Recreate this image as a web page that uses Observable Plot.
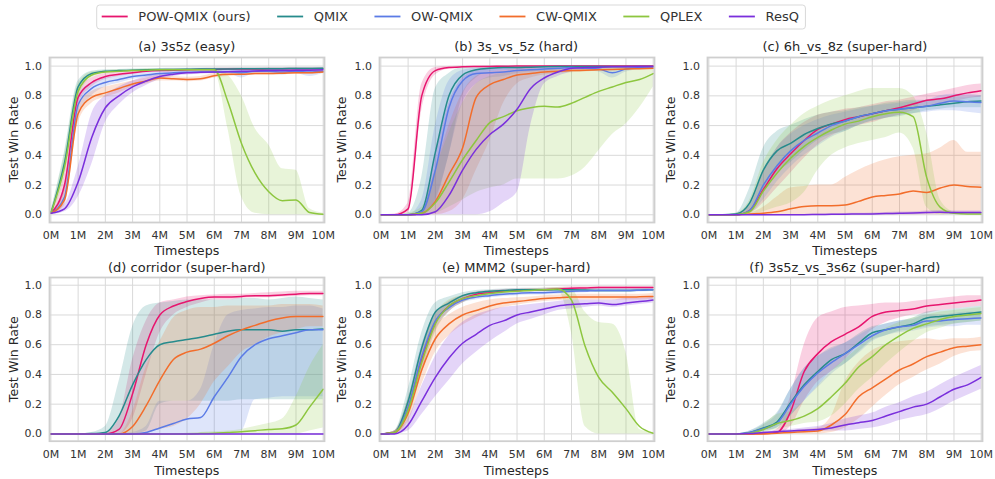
<!DOCTYPE html>
<html><head><meta charset="utf-8">
<script src="https://cdn.jsdelivr.net/npm/d3@7"></script>
<script src="https://cdn.jsdelivr.net/npm/@observablehq/plot@0.6"></script>
<style>
body{margin:0;background:#fff;}
#root{position:relative;width:995px;height:479px;overflow:hidden;background:#fff;font-family:"DejaVu Sans",sans-serif;}
#root svg.plot{position:absolute;}
#overlay{position:absolute;left:0;top:0;pointer-events:none;}
</style></head><body><div id="root"></div>
<script>
// ---------- data ----------
const timesteps = [0,0.5,1,1.5,2,2.5,3,3.5,4,4.5,5,5.5,6,6.5,7,7.5,8,8.5,9,9.5,10]; // millions
const methods = ["POW-QMIX (ours)","QMIX","OW-QMIX","CW-QMIX","QPLEX","ResQ"];
const colors = ["#e7156e","#268b8c","#5b7be6","#f26d2b","#8dc63f","#7a2fdc"];
const xTicks = [0,1,2,3,4,5,6,7,8,9,10];
const yTicks = [0,0.2,0.4,0.6,0.8,1.0];
const titles = ["(a) 3s5z (easy)","(b) 3s_vs_5z (hard)","(c) 6h_vs_8z (super-hard)","(d) corridor (super-hard)","(e) MMM2 (super-hard)","(f) 3s5z_vs_3s6z (super-hard)"];

// (a) 3s5z
const a_pow    = [0.01,0.20,0.79,0.89,0.93, 0.945,0.955,0.965,0.97,0.972, 0.975,0.977,0.978,0.98,0.98, 0.98,0.982,0.982,0.983,0.983,0.983];
const a_pow_lo = [0,0.14,0.74,0.86,0.91, 0.93,0.945,0.955,0.96,0.965, 0.968,0.97,0.97,0.972,0.972, 0.973,0.975,0.975,0.976,0.976,0.976];
const a_pow_hi = [0.02,0.27,0.84,0.92,0.95, 0.96,0.965,0.972,0.978,0.98, 0.982,0.984,0.985,0.987,0.987, 0.987,0.989,0.989,0.99,0.99,0.99];
const a_qmix    = [0.01,0.35,0.86,0.95,0.965, 0.97,0.972,0.975,0.977,0.978, 0.979,0.98,0.98,0.981,0.982, 0.982,0.983,0.983,0.984,0.984,0.985];
const a_qmix_lo = [0,0.28,0.82,0.93,0.955, 0.96,0.965,0.968,0.97,0.971, 0.972,0.973,0.973,0.974,0.975, 0.975,0.976,0.976,0.977,0.977,0.978];
const a_qmix_hi = [0.02,0.42,0.9,0.965,0.975, 0.978,0.98,0.982,0.984,0.985, 0.986,0.987,0.987,0.988,0.989, 0.989,0.99,0.99,0.99,0.99,0.99];
const a_ow    = [0.01,0.12,0.74,0.85,0.89, 0.91,0.93,0.94,0.95,0.955, 0.958,0.96,0.96,0.962,0.955, 0.965,0.965,0.96,0.965,0.96,0.965];
const a_ow_lo = [0,0.07,0.66,0.8,0.86, 0.885,0.91,0.925,0.935,0.945, 0.95,0.95,0.95,0.95,0.92, 0.95,0.95,0.94,0.95,0.93,0.95];
const a_ow_hi = [0.02,0.2,0.8,0.89,0.92, 0.935,0.95,0.955,0.965,0.968, 0.97,0.972,0.973,0.975,0.975, 0.978,0.978,0.978,0.98,0.98,0.98];
const a_cw    = [0.01,0.1,0.68,0.79,0.82, 0.85,0.88,0.9,0.92,0.915, 0.91,0.915,0.935,0.945,0.945, 0.95,0.95,0.952,0.955,0.955,0.96];
const a_cw_lo = [0,0.06,0.62,0.75,0.79, 0.82,0.86,0.88,0.9,0.9, 0.895,0.9,0.92,0.93,0.935, 0.94,0.94,0.942,0.945,0.945,0.95];
const a_cw_hi = [0.02,0.16,0.74,0.83,0.86, 0.88,0.9,0.92,0.935,0.93, 0.925,0.93,0.95,0.955,0.955, 0.96,0.96,0.962,0.965,0.965,0.97];
const a_qplex    = [0.01,0.32,0.83,0.94,0.96, 0.965,0.97,0.972,0.975,0.975, 0.976,0.976,0.975,0.76,0.48, 0.28,0.155,0.095,0.1,0.015,0.003];
const a_qplex_lo = [0,0.25,0.78,0.92,0.95, 0.957,0.962,0.965,0.968,0.968, 0.968,0.968,0.965,0.58,0.12, 0.01,0,0,0,0,0];
const a_qplex_hi = [0.02,0.4,0.88,0.96,0.97, 0.975,0.978,0.98,0.982,0.982, 0.983,0.983,0.983,0.94,0.8, 0.58,0.47,0.31,0.3,0.04,0.01];
const a_resq    = [0.01,0.04,0.22,0.52,0.72, 0.8,0.86,0.9,0.93,0.945, 0.955,0.958,0.96,0.962,0.965, 0.967,0.97,0.97,0.972,0.973,0.975];
const a_resq_lo = [0,0.02,0.12,0.34,0.62, 0.74,0.82,0.87,0.91,0.93, 0.94,0.945,0.95,0.952,0.955, 0.958,0.96,0.96,0.962,0.963,0.965];
const a_resq_hi = [0.02,0.07,0.32,0.68,0.8, 0.86,0.9,0.93,0.95,0.96, 0.965,0.968,0.97,0.972,0.975, 0.977,0.98,0.98,0.982,0.983,0.985];

// (b) 3s_vs_5z
const b_pow    = [0,0,0.04,0.8,0.97, 0.99,0.995,0.997,0.998,0.999, 1,1,1,1,1, 1,1,1,1,1,1];
const b_pow_lo = [0,0,0.01,0.7,0.94, 0.98,0.99,0.995,0.996,0.998, 0.999,1,1,1,1, 1,1,1,1,1,1];
const b_pow_hi = [0,0.005,0.08,0.88,0.99, 0.997,1,1,1,1, 1,1,1,1,1, 1,1,1,1,1,1];
const b_qmix    = [0,0,0,0.03,0.42, 0.8,0.94,0.975,0.985,0.99, 0.99,0.993,0.995,0.997,0.998, 0.998,0.998,0.998,0.998,0.998,0.998];
const b_qmix_lo = [0,0,0,0,0.1, 0.4,0.8,0.92,0.96,0.97, 0.975,0.98,0.985,0.99,0.99, 0.99,0.99,0.99,0.99,0.99,0.99];
const b_qmix_hi = [0,0,0.01,0.25,0.85, 0.95,0.99,0.995,1,1, 1,1,1,1,1, 1,1,1,1,1,1];
const b_ow    = [0,0,0,0.02,0.3, 0.72,0.9,0.95,0.955,0.96, 0.97,0.975,0.98,0.985,0.99, 0.985,0.98,0.955,0.98,0.99,0.995];
const b_ow_lo = [0,0,0,0,0.08, 0.4,0.75,0.88,0.92,0.93, 0.95,0.96,0.965,0.97,0.975, 0.97,0.96,0.92,0.96,0.975,0.985];
const b_ow_hi = [0,0,0,0.1,0.6, 0.9,0.97,0.985,0.99,0.99, 0.99,0.995,0.995,1,1, 1,1,0.99,1,1,1];
const b_cw    = [0,0,0,0.01,0.09, 0.27,0.45,0.79,0.875,0.91, 0.94,0.95,0.96,0.965,0.97, 0.972,0.975,0.978,0.98,0.983,0.985];
const b_cw_lo = [0,0,0,0,0, 0.02,0.1,0.3,0.5,0.75, 0.88,0.92,0.94,0.95,0.955, 0.96,0.965,0.97,0.97,0.975,0.975];
const b_cw_hi = [0,0,0,0.03,0.3, 0.6,0.82,0.93,0.96,0.97, 0.98,0.985,0.985,0.99,0.99, 0.99,0.99,0.99,0.99,0.995,0.995];
const b_qplex    = [0,0,0,0.01,0.08, 0.22,0.37,0.5,0.62,0.66, 0.7,0.72,0.73,0.725,0.75, 0.79,0.83,0.86,0.89,0.91,0.95];
const b_qplex_lo = [0,0,0,0,0.01, 0.05,0.1,0.15,0.18,0.2, 0.24,0.24,0.24,0.24,0.26, 0.32,0.43,0.54,0.61,0.72,0.86];
const b_qplex_hi = [0,0,0.01,0.05,0.3, 0.55,0.75,0.88,0.93,0.95, 0.96,0.97,0.975,0.975,0.98, 0.985,0.985,0.99,0.99,0.99,0.995];
const b_resq    = [0,0,0,0,0.02, 0.13,0.3,0.44,0.54,0.61, 0.71,0.85,0.92,0.96,0.985, 0.99,0.993,0.995,0.996,0.997,0.998];
const b_resq_lo = [0,0,0,0,0, 0,0,0,0.02,0.08, 0.15,0.6,0.88,0.93,0.96, 0.975,0.98,0.985,0.985,0.99,0.99];
const b_resq_hi = [0,0,0,0.02,0.4, 0.75,0.92,0.97,0.985,0.99, 0.995,0.997,0.998,1,1, 1,1,1,1,1,1];

// (c) 6h_vs_8z
const c_pow    = [0,0,0,0.03,0.17, 0.31,0.41,0.5,0.575,0.61, 0.64,0.66,0.68,0.7,0.72, 0.745,0.77,0.78,0.8,0.82,0.835];
const c_pow_lo = [0,0,0,0.01,0.08, 0.18,0.28,0.38,0.47,0.53, 0.57,0.6,0.62,0.65,0.67, 0.7,0.73,0.74,0.76,0.78,0.79];
const c_pow_hi = [0,0,0.005,0.06,0.28, 0.45,0.55,0.62,0.67,0.69, 0.71,0.72,0.74,0.76,0.77, 0.79,0.81,0.83,0.85,0.87,0.88];
const c_qmix    = [0,0,0.005,0.08,0.3, 0.43,0.48,0.54,0.58,0.61, 0.63,0.66,0.68,0.7,0.71, 0.72,0.73,0.74,0.75,0.76,0.765];
const c_qmix_lo = [0,0,0,0.02,0.15, 0.28,0.35,0.43,0.5,0.54, 0.56,0.6,0.63,0.65,0.66, 0.68,0.7,0.71,0.72,0.72,0.72];
const c_qmix_hi = [0,0,0.01,0.18,0.45, 0.56,0.6,0.64,0.67,0.69, 0.7,0.72,0.73,0.75,0.76, 0.77,0.77,0.78,0.79,0.79,0.8];
const c_ow    = [0,0,0,0.03,0.2, 0.33,0.43,0.5,0.55,0.6, 0.63,0.66,0.68,0.7,0.71, 0.72,0.73,0.75,0.765,0.76,0.755];
const c_ow_lo = [0,0,0,0.01,0.1, 0.22,0.32,0.4,0.46,0.52, 0.56,0.6,0.63,0.65,0.67, 0.68,0.69,0.7,0.7,0.69,0.68];
const c_ow_hi = [0,0,0.005,0.07,0.3, 0.45,0.54,0.6,0.64,0.67, 0.69,0.71,0.73,0.74,0.75, 0.76,0.77,0.8,0.81,0.81,0.8];
const c_cw    = [0,0,0,0.005,0.01, 0.02,0.04,0.055,0.06,0.06, 0.065,0.09,0.12,0.13,0.14, 0.16,0.15,0.18,0.2,0.19,0.185];
const c_cw_lo = [0,0,0,0,0, 0,0,0,0,0, 0,0,0,0,0, 0,0,0,0.005,0.005,0.005];
const c_cw_hi = [0,0,0,0.01,0.05, 0.12,0.18,0.19,0.2,0.2, 0.25,0.3,0.34,0.37,0.39, 0.4,0.41,0.45,0.5,0.42,0.42];
const c_qplex    = [0,0,0,0.02,0.16, 0.28,0.38,0.46,0.52,0.57, 0.61,0.63,0.66,0.68,0.69, 0.66,0.25,0.05,0.01,0.005,0.005];
const c_qplex_lo = [0,0,0,0,0.02, 0.05,0.08,0.15,0.3,0.4, 0.45,0.48,0.5,0.52,0.55, 0.45,0.05,0,0,0,0];
const c_qplex_hi = [0,0,0.01,0.1,0.35, 0.5,0.6,0.68,0.73,0.77, 0.8,0.83,0.85,0.85,0.85, 0.8,0.55,0.1,0.02,0.01,0.01];
const c_resq    = [0,0,0,0,0, 0,0,0,0.002,0.003, 0.004,0.005,0.006,0.008,0.01, 0.012,0.015,0.017,0.015,0.015,0.015];
const c_resq_lo = [0,0,0,0,0, 0,0,0,0,0, 0,0,0,0,0, 0,0.005,0.007,0.005,0.005,0.005];
const c_resq_hi = [0,0,0,0,0, 0,0,0.002,0.005,0.007, 0.009,0.01,0.012,0.015,0.018, 0.02,0.025,0.028,0.025,0.025,0.025];

// (d) corridor
const d_pow    = [0,0,0,0,0, 0.03,0.27,0.6,0.8,0.86, 0.89,0.91,0.92,0.92,0.925, 0.93,0.93,0.935,0.94,0.945,0.945];
const d_pow_lo = [0,0,0,0,0, 0,0.1,0.4,0.68,0.8, 0.85,0.88,0.9,0.9,0.91, 0.915,0.915,0.92,0.925,0.93,0.93];
const d_pow_hi = [0,0,0,0,0.01, 0.1,0.5,0.76,0.88,0.9, 0.92,0.93,0.935,0.94,0.94, 0.945,0.95,0.955,0.96,0.96,0.96];
const d_qmix    = [0,0,0,0.002,0.01, 0.12,0.33,0.5,0.6,0.62, 0.635,0.65,0.67,0.69,0.7, 0.7,0.7,0.69,0.7,0.7,0.705];
const d_qmix_lo = [0,0,0,0,0, 0,0,0.02,0.2,0.22, 0.22,0.22,0.22,0.22,0.23, 0.23,0.23,0.23,0.23,0.23,0.23];
const d_qmix_hi = [0,0,0,0.01,0.05, 0.35,0.72,0.86,0.88,0.89, 0.9,0.9,0.9,0.9,0.91, 0.91,0.9,0.91,0.92,0.91,0.9];
const d_ow    = [0,0,0,0,0, 0,0,0.01,0.04,0.07, 0.1,0.11,0.25,0.38,0.52, 0.6,0.64,0.66,0.68,0.7,0.7];
const d_ow_lo = [0,0,0,0,0, 0,0,0,0,0, 0,0,0,0.01,0.02, 0.23,0.24,0.25,0.25,0.25,0.25];
const d_ow_hi = [0,0,0,0,0, 0,0.01,0.05,0.22,0.22, 0.22,0.3,0.6,0.8,0.83, 0.84,0.85,0.85,0.86,0.86,0.84];
const d_cw    = [0,0,0,0,0, 0,0.05,0.19,0.36,0.5, 0.55,0.57,0.61,0.66,0.7, 0.73,0.76,0.78,0.79,0.79,0.79];
const d_cw_lo = [0,0,0,0,0, 0,0,0.01,0.03,0.05, 0.1,0.2,0.35,0.45,0.55, 0.6,0.65,0.68,0.7,0.72,0.72];
const d_cw_hi = [0,0,0,0,0, 0,0.15,0.45,0.62,0.78, 0.83,0.85,0.85,0.86,0.86, 0.86,0.86,0.87,0.87,0.87,0.86];
const d_qplex    = [0,0,0,0,0, 0,0,0,0,0, 0,0.002,0.005,0.01,0.015, 0.022,0.03,0.035,0.06,0.18,0.3];
const d_qplex_lo = [0,0,0,0,0, 0,0,0,0,0, 0,0,0,0,0, 0,0,0,0,0.02,0.04];
const d_qplex_hi = [0,0,0,0,0, 0,0,0,0,0, 0.005,0.01,0.015,0.02,0.03, 0.05,0.07,0.1,0.25,0.45,0.6];
const d_resq    = [0,0,0,0,0, 0,0,0,0,0, 0,0,0,0,0, 0,0,0,0,0,0];
const d_resq_lo = [0,0,0,0,0, 0,0,0,0,0, 0,0,0,0,0, 0,0,0,0,0,0];
const d_resq_hi = [0,0,0,0,0, 0,0,0,0,0, 0,0,0,0,0, 0,0,0,0,0,0];

// (e) MMM2
const e_pow    = [0,0.01,0.17,0.5,0.75, 0.86,0.91,0.94,0.95,0.96, 0.965,0.97,0.97,0.975,0.98, 0.982,0.985,0.985,0.985,0.985,0.985];
const e_pow_lo = [0,0,0.12,0.42,0.69, 0.82,0.88,0.92,0.935,0.945, 0.955,0.96,0.96,0.965,0.97, 0.975,0.978,0.978,0.978,0.978,0.978];
const e_pow_hi = [0,0.02,0.22,0.57,0.8, 0.89,0.93,0.955,0.965,0.972, 0.975,0.978,0.98,0.985,0.99, 0.99,0.992,0.992,0.992,0.992,0.992];
const e_qmix    = [0,0.01,0.22,0.58,0.82, 0.88,0.93,0.95,0.96,0.965, 0.97,0.97,0.97,0.97,0.97, 0.968,0.965,0.965,0.965,0.967,0.97];
const e_qmix_lo = [0,0,0.15,0.48,0.75, 0.84,0.91,0.935,0.95,0.955, 0.96,0.96,0.96,0.96,0.96, 0.958,0.955,0.955,0.955,0.957,0.96];
const e_qmix_hi = [0,0.02,0.3,0.68,0.88, 0.92,0.95,0.965,0.97,0.975, 0.978,0.98,0.98,0.98,0.98, 0.978,0.975,0.975,0.975,0.977,0.98];
const e_ow    = [0,0.01,0.18,0.52,0.76, 0.85,0.9,0.92,0.93,0.94, 0.945,0.95,0.95,0.955,0.96, 0.962,0.965,0.965,0.965,0.967,0.97];
const e_ow_lo = [0,0,0.13,0.45,0.71, 0.82,0.88,0.9,0.915,0.925, 0.93,0.935,0.935,0.94,0.945, 0.95,0.952,0.952,0.952,0.955,0.958];
const e_ow_hi = [0,0.02,0.24,0.6,0.81, 0.88,0.92,0.94,0.945,0.955, 0.96,0.965,0.965,0.97,0.975, 0.975,0.978,0.978,0.978,0.98,0.982];
const e_cw    = [0,0.01,0.14,0.43,0.64, 0.74,0.8,0.83,0.86,0.88, 0.89,0.9,0.91,0.915,0.92, 0.92,0.92,0.92,0.92,0.922,0.925];
const e_cw_lo = [0,0,0.08,0.33,0.55, 0.66,0.73,0.78,0.82,0.85, 0.865,0.88,0.89,0.895,0.9, 0.9,0.9,0.9,0.9,0.9,0.905];
const e_cw_hi = [0,0.02,0.2,0.52,0.72, 0.8,0.85,0.88,0.9,0.91, 0.915,0.92,0.93,0.935,0.94, 0.94,0.94,0.94,0.94,0.94,0.945];
const e_qplex    = [0,0.01,0.16,0.48,0.74, 0.86,0.91,0.93,0.945,0.955, 0.96,0.965,0.97,0.975,0.9, 0.59,0.38,0.28,0.17,0.05,0.005];
const e_qplex_lo = [0,0,0.1,0.4,0.68, 0.82,0.88,0.91,0.93,0.94, 0.95,0.955,0.96,0.965,0.68, 0.05,0,0,0,0,0];
const e_qplex_hi = [0,0.02,0.24,0.57,0.8, 0.9,0.93,0.95,0.96,0.965, 0.97,0.975,0.98,0.985,0.975, 0.82,0.75,0.74,0.55,0.03,0.01];
const e_resq    = [0,0,0.06,0.22,0.38, 0.51,0.61,0.67,0.73,0.76, 0.8,0.82,0.84,0.86,0.87, 0.875,0.88,0.87,0.88,0.89,0.9];
const e_resq_lo = [0,0,0.02,0.13,0.25, 0.36,0.47,0.55,0.62,0.68, 0.74,0.77,0.8,0.83,0.84, 0.85,0.86,0.85,0.86,0.87,0.88];
const e_resq_hi = [0,0.01,0.1,0.32,0.52, 0.66,0.75,0.8,0.83,0.85, 0.86,0.87,0.88,0.89,0.9, 0.9,0.9,0.9,0.91,0.91,0.92];

// (f) 3s5z_vs_3s6z
const f_pow    = [0,0,0,0,0.002, 0.01,0.15,0.42,0.54,0.62, 0.67,0.72,0.79,0.82,0.83, 0.84,0.86,0.87,0.88,0.89,0.9];
const f_pow_lo = [0,0,0,0,0, 0,0.05,0.22,0.35,0.42, 0.5,0.6,0.7,0.75,0.78, 0.8,0.81,0.83,0.84,0.85,0.86];
const f_pow_hi = [0,0,0,0,0.005, 0.03,0.25,0.6,0.78,0.82, 0.85,0.86,0.87,0.88,0.88, 0.89,0.9,0.91,0.92,0.93,0.93];
const f_qmix    = [0,0,0,0.01,0.04, 0.08,0.21,0.33,0.42,0.5, 0.54,0.61,0.68,0.7,0.72, 0.74,0.78,0.79,0.8,0.81,0.82];
const f_qmix_lo = [0,0,0,0,0.02, 0.04,0.12,0.22,0.32,0.42, 0.47,0.55,0.63,0.66,0.69, 0.7,0.72,0.73,0.74,0.75,0.76];
const f_qmix_hi = [0,0,0,0.02,0.07, 0.14,0.3,0.44,0.52,0.58, 0.61,0.67,0.72,0.74,0.76, 0.78,0.82,0.83,0.84,0.85,0.86];
const f_ow    = [0,0,0,0.01,0.035, 0.07,0.2,0.32,0.41,0.48, 0.54,0.6,0.66,0.7,0.72, 0.73,0.76,0.76,0.77,0.775,0.78];
const f_ow_lo = [0,0,0,0,0.015, 0.04,0.12,0.22,0.31,0.4, 0.47,0.54,0.62,0.66,0.68, 0.69,0.71,0.72,0.72,0.73,0.73];
const f_ow_hi = [0,0,0,0.02,0.06, 0.13,0.3,0.44,0.52,0.57, 0.61,0.66,0.71,0.74,0.76, 0.77,0.8,0.8,0.81,0.82,0.82];
const f_cw    = [0,0,0,0,0, 0.005,0.01,0.015,0.02,0.06, 0.13,0.25,0.31,0.37,0.43, 0.47,0.52,0.55,0.58,0.59,0.6];
const f_cw_lo = [0,0,0,0,0, 0,0,0,0,0.01, 0.04,0.1,0.18,0.26,0.33, 0.38,0.43,0.47,0.52,0.55,0.56];
const f_cw_hi = [0,0,0,0,0, 0.01,0.02,0.03,0.04,0.12, 0.35,0.48,0.56,0.6,0.62, 0.63,0.64,0.63,0.64,0.64,0.65];
const f_qplex    = [0,0,0,0.005,0.03, 0.07,0.09,0.12,0.17,0.25, 0.34,0.45,0.52,0.6,0.66, 0.71,0.74,0.77,0.79,0.8,0.81];
const f_qplex_lo = [0,0,0,0,0.01, 0.03,0.05,0.07,0.08,0.12, 0.2,0.3,0.38,0.47,0.55, 0.62,0.68,0.71,0.74,0.75,0.76];
const f_qplex_hi = [0,0,0,0.01,0.06, 0.13,0.15,0.22,0.32,0.42, 0.5,0.58,0.65,0.71,0.75, 0.78,0.8,0.82,0.83,0.84,0.85];
const f_resq    = [0,0,0,0.002,0.01, 0.015,0.02,0.025,0.03,0.04, 0.06,0.075,0.09,0.12,0.15, 0.18,0.2,0.25,0.3,0.33,0.38];
const f_resq_lo = [0,0,0,0,0.005, 0.008,0.01,0.012,0.015,0.02, 0.02,0.03,0.04,0.06,0.09, 0.11,0.13,0.17,0.22,0.26,0.3];
const f_resq_hi = [0,0,0,0.005,0.015, 0.022,0.03,0.04,0.05,0.07, 0.1,0.12,0.14,0.18,0.21, 0.25,0.28,0.33,0.38,0.42,0.46];

// ---------- assembly ----------
const panelData = [
  [[a_pow,a_pow_lo,a_pow_hi],[a_qmix,a_qmix_lo,a_qmix_hi],[a_ow,a_ow_lo,a_ow_hi],[a_cw,a_cw_lo,a_cw_hi],[a_qplex,a_qplex_lo,a_qplex_hi],[a_resq,a_resq_lo,a_resq_hi]],
  [[b_pow,b_pow_lo,b_pow_hi],[b_qmix,b_qmix_lo,b_qmix_hi],[b_ow,b_ow_lo,b_ow_hi],[b_cw,b_cw_lo,b_cw_hi],[b_qplex,b_qplex_lo,b_qplex_hi],[b_resq,b_resq_lo,b_resq_hi]],
  [[c_pow,c_pow_lo,c_pow_hi],[c_qmix,c_qmix_lo,c_qmix_hi],[c_ow,c_ow_lo,c_ow_hi],[c_cw,c_cw_lo,c_cw_hi],[c_qplex,c_qplex_lo,c_qplex_hi],[c_resq,c_resq_lo,c_resq_hi]],
  [[d_pow,d_pow_lo,d_pow_hi],[d_qmix,d_qmix_lo,d_qmix_hi],[d_ow,d_ow_lo,d_ow_hi],[d_cw,d_cw_lo,d_cw_hi],[d_qplex,d_qplex_lo,d_qplex_hi],[d_resq,d_resq_lo,d_resq_hi]],
  [[e_pow,e_pow_lo,e_pow_hi],[e_qmix,e_qmix_lo,e_qmix_hi],[e_ow,e_ow_lo,e_ow_hi],[e_cw,e_cw_lo,e_cw_hi],[e_qplex,e_qplex_lo,e_qplex_hi],[e_resq,e_resq_lo,e_resq_hi]],
  [[f_pow,f_pow_lo,f_pow_hi],[f_qmix,f_qmix_lo,f_qmix_hi],[f_ow,f_ow_lo,f_ow_hi],[f_cw,f_cw_lo,f_cw_hi],[f_qplex,f_qplex_lo,f_qplex_hi],[f_resq,f_resq_lo,f_resq_hi]]
];

// layout (frame boxes in page pixels)
const colLeft = [49.3, 378.7, 707.3];
const frameW = 275;
const rows = [
  {top: 57, h: 165, ydom: [-0.052, 1.058], titleY: 51, xlabY: 255.3},
  {top: 277.3, h: 163.7, ydom: [-0.049, 1.052], titleY: 271.5, xlabY: 474.5}
];
const ylabX = [17.6, 346, 674.5];

const root = document.getElementById("root");
const mL = 48, mR = 22, mT = 6, mB = 28;

panelData.forEach((series, p) => {
  const r = rows[Math.floor(p / 3)], c = p % 3;
  const recs = [];
  series.forEach(([m, lo, hi], i) => {
    timesteps.forEach((t, j) => recs.push({method: methods[i], t, y: m[j], lo: lo[j], hi: hi[j]}));
  });
  const chart = Plot.plot({
    width: mL + frameW + mR,
    height: mT + r.h + mB,
    marginLeft: mL, marginRight: mR, marginTop: mT, marginBottom: mB,
    x: {domain: [-0.051, 10.048], label: null},
    y: {domain: r.ydom, label: null},
    color: {domain: methods, range: colors},
    style: {fontFamily: "DejaVu Sans", fontSize: "11px", color: "#333", background: "transparent", overflow: "visible"},
    marks: [
      Plot.gridX(xTicks, {stroke: "#d9d9d9", strokeOpacity: 1, strokeWidth: 1}),
      Plot.gridY(yTicks, {stroke: "#d9d9d9", strokeOpacity: 1, strokeWidth: 1}),
      Plot.areaY(recs, {x: "t", y1: "lo", y2: "hi", z: "method", fill: "method", fillOpacity: 0.2, curve: "monotone-x"}),
      Plot.line(recs, {x: "t", y: "y", z: "method", stroke: "method", strokeWidth: 1.5, curve: "monotone-x"}),
      Plot.frame({stroke: "#cfcfcf", strokeWidth: 1.8}),
      Plot.axisX(xTicks, {tickSize: 0, tickPadding: 9, tickFormat: d => d + "M", label: null}),
      Plot.axisY(yTicks, {tickSize: 0, tickPadding: 7.5, tickFormat: d3.format(".1f"), label: null})
    ]
  });
  chart.classList.add("plot");
  chart.style.left = (colLeft[c] - mL) + "px";
  chart.style.top = (r.top - mT) + "px";
  root.appendChild(chart);
});

// ---------- text overlay: titles, axis labels, legend ----------
const ov = d3.select(root).append("svg").attr("id", "overlay").attr("width", 995).attr("height", 479)
  .style("font-family", "DejaVu Sans").style("fill", "#262626");

titles.forEach((t, p) => {
  const r = rows[Math.floor(p / 3)], c = p % 3;
  const cx = colLeft[c] + frameW / 2;
  ov.append("text").attr("x", cx).attr("y", r.titleY).attr("text-anchor", "middle").attr("font-size", 13).text(t);
  ov.append("text").attr("x", cx).attr("y", r.xlabY).attr("text-anchor", "middle").attr("font-size", 12.7).text("Timesteps");
  const cy = r.top + r.h / 2;
  ov.append("text").attr("transform", `translate(${ylabX[c]},${cy}) rotate(-90)`).attr("text-anchor", "middle").attr("font-size", 12.7).text("Test Win Rate");
});

// legend
const lg = ov.append("g");
const box = lg.append("rect").attr("x", 96.7).attr("y", 5).attr("height", 24).attr("rx", 3)
  .attr("fill", "#fff").attr("stroke", "#d9d9d9").attr("stroke-width", 1);
let lx = 101.7;
methods.forEach((m, i) => {
  lg.append("line").attr("x1", lx).attr("x2", lx + 26).attr("y1", 16.5).attr("y2", 16.5)
    .attr("stroke", colors[i]).attr("stroke-width", 1.8);
  const tx = lg.append("text").attr("x", lx + 36.6).attr("y", 21.2).attr("font-size", 13).attr("fill", "#333").text(m);
  const w = tx.node().getComputedTextLength();
  lx = lx + 36.6 + w + 26.5;
});
box.attr("width", (lx - 26.5 + 6.5) - 96.7);
</script></body></html>
